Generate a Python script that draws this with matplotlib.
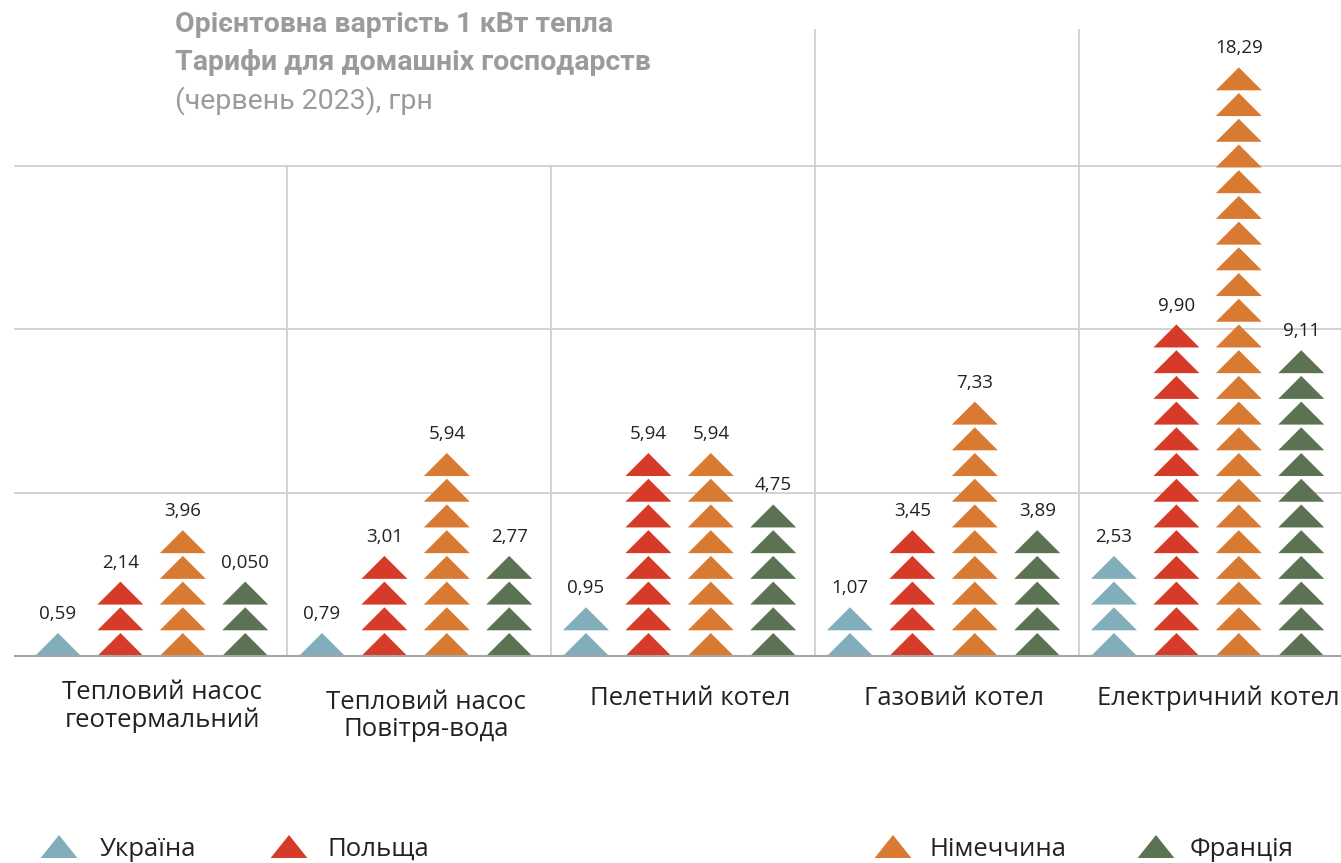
import matplotlib.pyplot as plt
from matplotlib.patches import Polygon

# -------------------- ДАНІ --------------------
categories = ["Тепловий насос\nгеотермальний", "Тепловий насос\nПовітря-вода",
              "Пелетний котел", "Газовий котел", "Електричний котел"]
countries = ["Україна", "Польща", "Німеччина", "Франція"]

# підписи над стовпчиками, грн
ukraine_vals = ["0,59", "0,79", "0,95", "1,07", "2,53"]
poland_vals = ["2,14", "3,01", "5,94", "3,45", "9,90"]
germany_vals = ["3,96", "5,94", "5,94", "7,33", "18,29"]
france_vals = ["0,050", "2,77", "4,75", "3,89", "9,11"]

# кількість трикутників у кожному стовпчику
ukraine_n = [1, 1, 2, 2, 4]
poland_n = [3, 4, 8, 5, 13]
germany_n = [5, 8, 8, 10, 23]
france_n = [3, 4, 6, 5, 12]

title_lines = ["Орієнтовна вартість 1 кВт тепла", "Тарифи для домашніх господарств",
               "(червень 2023), грн"]

# -------------------- СТИЛЬ --------------------
colors = ["#82aebb", "#d63a28", "#d97a32", "#5c7353"]
grid_c = "#cfcfcf"
title_c = "#9b9b9b"
text_c = "#222222"
font = "Open Sans"

W, H = 1341, 863
px_x = 264.0          # пікселів на одну групу
px_y = 32.67          # пікселів на 1 грн
x0_px, base_px = 58, 656

tri_step = 0.787      # крок трикутника, грн
tri_h = 0.704         # висота трикутника, грн
tri_hw = 0.0871       # піврозмах основи, частки групи
col_step = 0.2364     # крок стовпчиків у групі

fig = plt.figure(figsize=(W / 100, H / 100), dpi=100)
ax = fig.add_axes([0, 0, 1, 1])
ax.set_xlim(-x0_px / px_x, (W - x0_px) / px_x)
ax.set_ylim((base_px - H) / px_y, base_px / px_y)
ax.axis("off")

xl, xr = (15 - x0_px) / px_x, (W - x0_px) / px_x

# сітка
for gy in [5, 10, 15]:
    ax.plot([xl, xr], [gy, gy], color=grid_c, lw=1.3, zorder=0)
ax.plot([xl, xr], [0, 0], color="#a5a5a5", lw=1.5, zorder=3)
for g in range(1, len(categories)):
    top = 15 if g < 3 else (base_px - 30) / px_y
    ax.plot([g - 0.132, g - 0.132], [0, top], color=grid_c, lw=1.3, zorder=0)


def triangle(xc, yb, hw, h, color):
    ax.add_patch(Polygon([(xc - hw, yb), (xc + hw, yb), (xc, yb + h)],
                         closed=True, facecolor=color, edgecolor="none", zorder=2))


counts = [ukraine_n, poland_n, germany_n, france_n]
labels = [ukraine_vals, poland_vals, germany_vals, france_vals]

for s in range(len(countries)):
    for g in range(len(categories)):
        xc = g + s * col_step
        n = counts[s][g]
        for k in range(n):
            triangle(xc, k * tri_step, tri_hw, tri_h, colors[s])
        top = (n - 1) * tri_step + tri_h
        ax.text(xc, top + 0.58, labels[s][g], ha="center", va="center",
                fontsize=13.5, color=text_c, family=font)

# підписи категорій
cat_y = [-1.55, -1.83, -1.29, -1.29, -1.29]
for g, name in enumerate(categories):
    ax.text(g + 1.5 * col_step + 0.04, cat_y[g], name, ha="center", va="center",
            fontsize=18.5, color=text_c, family=font, linespacing=1.1)

# заголовок
fig.text(175 / W, 1 - 25 / H, title_lines[0], ha="left", va="center",
         fontsize=20.5, fontweight="bold", color=title_c, family="Roboto")
fig.text(175 / W, 1 - 63 / H, title_lines[1], ha="left", va="center",
         fontsize=20.5, fontweight="bold", color=title_c, family="Roboto")
fig.text(175 / W, 1 - 101 / H, title_lines[2], ha="left", va="center",
         fontsize=20.5, color=title_c, family="Roboto")

# легенда
leg_tri_px = [59, 289, 893, 1156]
leg_txt_px = [100, 327, 930, 1190]
leg_yb = (base_px - 858) / px_y
for s, name in enumerate(countries):
    xc = (leg_tri_px[s] - x0_px) / px_x
    triangle(xc, leg_yb, tri_hw * 0.8, tri_h, colors[s])
    ax.text((leg_txt_px[s] - x0_px) / px_x, (base_px - 849) / px_y, name,
            ha="left", va="center", fontsize=18.5, color=text_c, family=font)

fig.savefig("out.png", dpi=100)
